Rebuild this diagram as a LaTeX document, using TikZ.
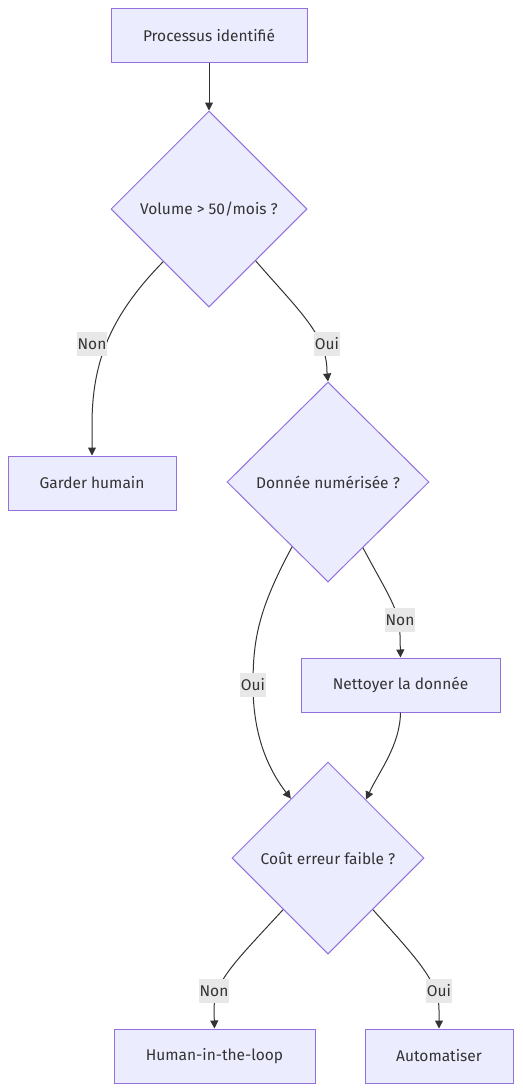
\documentclass[tikz,border=0pt]{standalone}
\usepackage{fontspec}
\setmainfont{Fira Sans}
\usetikzlibrary{shapes.geometric,arrows.meta}
\definecolor{nfill}{HTML}{ECECFF}
\definecolor{nstroke}{HTML}{9370DB}
\definecolor{ntext}{HTML}{333333}
\definecolor{lblbg}{HTML}{E8E8E8}
\tikzset{
  box/.style={draw=nstroke,fill=nfill,line width=1pt,rectangle,minimum height=54pt,inner sep=0pt,text=ntext,font=\fontsize{15.5}{18}\selectfont},
  dia/.style={draw=nstroke,fill=nfill,line width=1pt,diamond,aspect=1,inner sep=0pt,text=ntext,font=\fontsize{15.5}{18}\selectfont},
  edge/.style={draw=ntext,line width=1pt,-{Triangle[length=8pt,width=8pt]}},
  lbl/.style={fill=lblbg,inner sep=1pt,text=ntext,font=\fontsize{15.5}{18}\selectfont,minimum height=24pt}
}
\begin{document}
\begin{tikzpicture}[x=1pt,y=-1pt]
\useasboundingbox (0,0) rectangle (522,1092);
\node[box,minimum width=196pt] (p) at (209,35) {Processus identifié};
\node[dia,minimum width=196pt,minimum height=196pt] (vol) at (209,209) {Volume > 50/mois ?};
\node[box,minimum width=168pt] (gh) at (92,483) {Garder humain};
\node[dia,minimum width=202pt,minimum height=200pt] (don) at (328,482) {Donnée numérisée ?};
\node[box,minimum width=199pt] (net) at (400.5,685) {Nettoyer la donnée};
\node[dia,minimum width=192pt,minimum height=192pt] (cout) at (328,858) {Coût erreur faible ?};
\node[box,minimum width=201pt] (hitl) at (214.5,1056) {Human-in-the-loop};
\node[box,minimum width=148pt] (auto) at (439,1056) {Automatiser};

\draw[edge] (p.south) -- (vol.north);
\draw[edge] (vol.-131) .. controls (108,318) and (92,365) .. (92,425) -- (gh.north);
\draw[edge] (vol.-48) .. controls (300,312) and (327,335) .. (327,372) -- (don.north);
\draw[edge] (don.-119) .. controls (258,610) and (253,640) .. (253,685) .. controls (253,730) and (265,765) .. (cout.122);
\draw[edge] (don.-62) .. controls (388,595) and (400,610) .. (400,635) -- (net.north);
\draw[edge] (net.south) .. controls (400,745) and (380,770) .. (cout.57);
\draw[edge] (cout.-131) .. controls (232,965) and (214,982) .. (214,1010) -- (hitl.north);
\draw[edge] (cout.-49) .. controls (418,960) and (439,982) .. (439,1010) -- (auto.north);

\node[lbl] (l1) at (92,344) {Non};
\node[lbl] (l2) at (327,344) {Oui};
\node[lbl] (l3) at (400,620) {Non};
\node[lbl] (l4) at (253,685) {Oui};
\node[lbl] (l5) at (214,991) {Non};
\node[lbl] (l6) at (439,991) {Oui};
\end{tikzpicture}
\end{document}
